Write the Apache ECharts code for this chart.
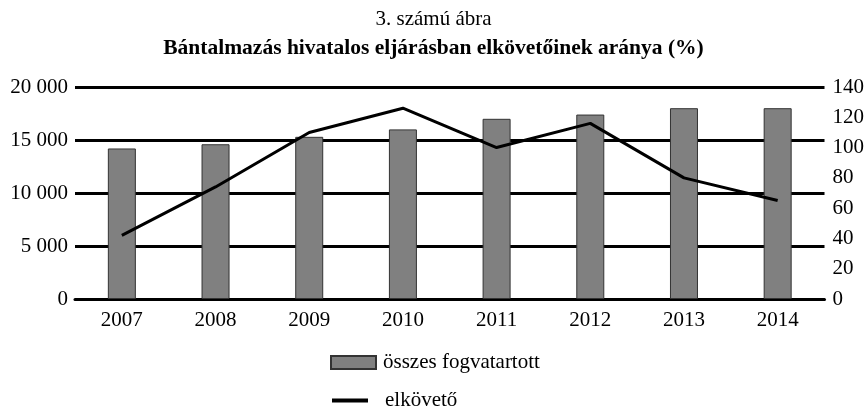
<!DOCTYPE html>
<html>
<head>
<meta charset="utf-8">
<script src="https://cdn.jsdelivr.net/npm/echarts@6/dist/echarts.min.js"></script>
<style>
html, body { margin: 0; padding: 0; background: #fff; }
#chart { width: 867px; height: 407px; }
</style>
</head>
<body>
<div id="chart"></div>
<script>
var years = ['2007', '2008', '2009', '2010', '2011', '2012', '2013', '2014'];
var osszesFogvatartott = [14200, 14600, 15300, 16000, 17000, 17400, 18000, 18000];
var elkoveto = [42, 74, 110, 126, 100, 116, 80, 65];

var fontFam = '"Liberation Serif", "DejaVu Serif", serif';

var chart = echarts.init(document.getElementById('chart'));

var option = {
    backgroundColor: '#fff',
    animation: false,
    textStyle: { fontFamily: fontFam, color: '#000' },
    title: [{
        text: '3. számú ábra',
        left: 'center',
        top: 9,
        padding: 0,
        textStyle: { fontFamily: fontFam, fontSize: 21, fontWeight: 'normal', color: '#000' }
    }, {
        text: 'Bántalmazás hivatalos eljárásban elkövetőinek aránya (%)',
        left: 'center',
        top: 37,
        padding: 0,
        textStyle: { fontFamily: fontFam, fontSize: 21.5, fontWeight: 'bold', color: '#000' }
    }],
    legend: [{
        data: [{ name: 'összes fogvatartott', icon: 'rect' }],
        left: 330,
        top: 352,
        padding: 0,
        itemWidth: 45,
        itemHeight: 13,
        textStyle: { fontFamily: fontFam, fontSize: 21, lineHeight: 21, color: '#000', padding: [0, 0, 0, 2] }
    }, {
        data: [{ name: 'elkövető', icon: 'rect' }],
        left: 332,
        top: 390,
        padding: 0,
        itemWidth: 36,
        itemHeight: 4,
        itemStyle: { color: '#000' },
        textStyle: { fontFamily: fontFam, fontSize: 21, lineHeight: 21, color: '#000', padding: [0, 0, 0, 12] }
    }],
    grid: { left: 75, right: 41, top: 87, bottom: 108 },
    xAxis: {
        type: 'category',
        data: years,
        axisLine: { lineStyle: { color: '#000', width: 3 } },
        axisTick: { show: false },
        axisLabel: { fontFamily: fontFam, fontSize: 21, color: '#000', margin: 11 }
    },
    yAxis: [{
        type: 'value',
        min: 0,
        max: 20000,
        interval: 5000,
        axisLine: { show: false },
        axisTick: { show: false },
        splitLine: { lineStyle: { color: '#000', width: 3 } },
        axisLabel: {
            fontFamily: fontFam, fontSize: 21, color: '#000', margin: 7,
            formatter: function (v) {
                return String(v).replace(/\B(?=(\d{3})+(?!\d))/g, ' ');
            }
        }
    }, {
        type: 'value',
        min: 0,
        max: 140,
        interval: 20,
        axisLine: { show: false },
        axisTick: { show: false },
        splitLine: { show: false },
        axisLabel: { fontFamily: fontFam, fontSize: 21, color: '#000', margin: 8 }
    }],
    series: [{
        name: 'összes fogvatartott',
        type: 'bar',
        data: osszesFogvatartott,
        barWidth: 28,
        itemStyle: { color: '#808080', borderColor: '#333', borderWidth: 1 }
    }, {
        name: 'elkövető',
        type: 'line',
        yAxisIndex: 1,
        data: elkoveto,
        symbol: 'none',
        lineStyle: { color: '#000', width: 3 },
        itemStyle: { color: '#000' }
    }]
};

chart.setOption(option);
</script>
</body>
</html>
